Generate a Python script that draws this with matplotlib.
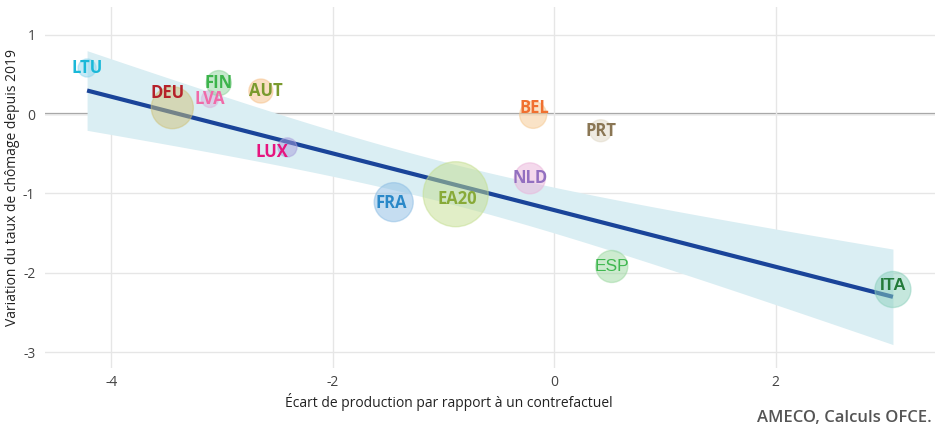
import numpy as np
import matplotlib.pyplot as plt

plt.rcParams['font.family'] = ['Open Sans', 'DejaVu Sans']
plt.rcParams['axes.unicode_minus'] = False

# Données
pays = ['LTU', 'DEU', 'LVA', 'FIN', 'AUT', 'LUX', 'BEL', 'PRT', 'NLD', 'FRA', 'EA20', 'ESP', 'ITA']
ecart_prod = [-4.22, -3.45, -3.11, -3.03, -2.65, -2.41, -0.19, 0.42, -0.22, -1.45, -0.89, 0.52, 3.06]
var_chomage = [0.58, 0.08, 0.19, 0.39, 0.29, -0.42, -0.01, -0.21, -0.81, -1.11, -1.01, -1.92, -2.21]
taille = [18, 42, 17, 25, 24, 19, 27, 22, 31, 39, 65, 32, 36]  # diamètre des bulles (px)

# Droite de régression pondérée et intervalle de confiance
pente = -0.357
constante = -1.21
ic_a, ic_b, ic_centre = 0.065, 0.018, -1.0

# Styles
couleur_texte = ['#1ab8d8', '#b5212a', '#f06aa8', '#3cb44b', '#7a9a2e', '#e6157f', '#f07030',
                 '#8a7654', '#9370c0', '#2a88c8', '#88aa38', '#40b850', '#237a3a']
couleur_bulle = ['#8fd6ee', '#cfc27a', '#d8b4dc', '#8fd49c', '#f6c088', '#a8a0dc', '#f6c890',
                 '#e0d8c6', '#eab4da', '#8cbde4', '#c4de90', '#9cd8a0', '#8cd0bc']
decalage = {'DEU': (-5, 15), 'AUT': (5, 0), 'LUX': (-16, -5), 'BEL': (1, 7),
            'FRA': (-2, -1), 'EA20': (2, -5), 'ITA': (0, 4)}

fig = plt.figure(figsize=(9.38, 4.30), dpi=100)
ax = fig.add_axes([0.048, 0.144, 0.9488, 0.84])

# Intervalle de confiance et droite
xs = np.linspace(min(ecart_prod), max(ecart_prod), 200)
ys = constante + pente * xs
demi = np.sqrt(ic_a + ic_b * (xs - ic_centre) ** 2)
ax.fill_between(xs, ys - demi, ys + demi, color='#daeef3', lw=0, zorder=1)
ax.plot(xs, ys, color='#1a4499', lw=3, solid_capstyle='butt', zorder=2)

# Bulles
s = (np.array(taille) * 0.72) ** 2
ax.scatter(ecart_prod, var_chomage, s=s, c=couleur_bulle, alpha=0.5,
           edgecolors=couleur_bulle, linewidths=1, zorder=3)

# Étiquettes
for i, p in enumerate(pays):
    dx, dy = decalage.get(p, (0, 0))
    kw = dict(fontsize=12, fontweight='bold')
    if p == 'ESP':
        kw = dict(fontsize=12.5, fontweight='normal', family='Liberation Sans')
    elif p == 'ITA':
        kw = dict(fontsize=12.5, fontweight='bold', family='Liberation Sans')
    ax.annotate(p, (ecart_prod[i], var_chomage[i]), xytext=(dx * 0.72, dy * 0.72),
                textcoords='offset points', ha='center', va='center',
                color=couleur_texte[i], zorder=4, **kw)

ax.axhline(0, color='#999999', lw=1.6, zorder=0.5)
ax.set_xlim(-4.60, 3.44)
ax.set_ylim(-3.20, 1.35)
ax.set_xticks([-4, -2, 0, 2])
ax.set_yticks([-3, -2, -1, 0, 1])
ax.grid(True, color='#e6e6e6', lw=1)
ax.set_axisbelow(True)
for sp in ax.spines.values():
    sp.set_visible(False)
ax.tick_params(axis='y', length=0, labelsize=10, labelcolor='#444444', pad=7)
ax.tick_params(axis='x', length=0, labelsize=10, labelcolor='#444444', pad=5)

fig.text(0.0135, 0.565, 'Variation du taux de chômage depuis 2019', rotation=90,
         ha='center', va='center', fontsize=10, color='#222222')
fig.text(0.479, 0.066, 'Écart de production par rapport à un contrefactuel',
         ha='center', va='center', fontsize=10, color='#222222')
fig.text(0.993, 0.028, 'AMECO, Calculs OFCE.', ha='right', va='center',
         fontsize=12, fontweight='semibold', color='#555555')

fig.savefig('out.png', dpi=100)
